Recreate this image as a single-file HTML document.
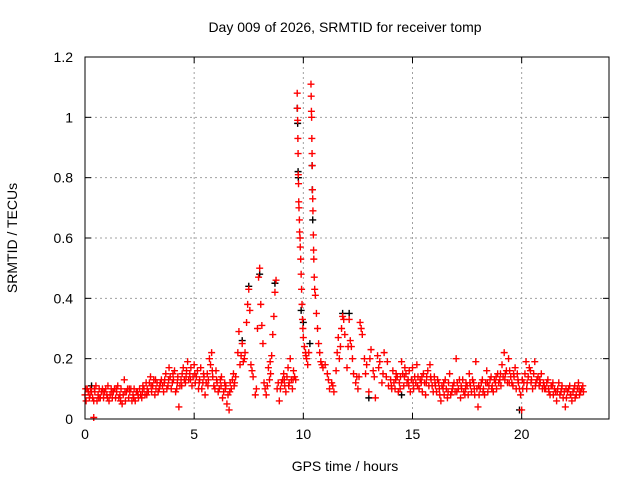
<!DOCTYPE html>
<html><head><meta charset="utf-8"><style>
body{margin:0;background:#fff}
svg{display:block;font-family:"Liberation Sans",sans-serif}
</style></head><body>
<svg id="chart" width="640" height="480">
<rect width="640" height="480" fill="#fff"/>
<text x="345" y="32" text-anchor="middle" font-size="14">Day 009 of 2026, SRMTID for receiver tomp</text>
<text x="345" y="471" text-anchor="middle" font-size="14">GPS time / hours</text>
<text x="17" y="238" text-anchor="middle" font-size="14" transform="rotate(-90 17 238)">SRMTID / TECUs</text>
<g id="grid"></g>
<g id="ticks"></g>
<g id="black"></g>
<g id="red"></g>
<rect x="85" y="57" width="524" height="362" fill="none" stroke="#000" stroke-width="1"/>
</svg>
<script>
const xTicks=[0,5,10,15,20];
const yTicks=[0,0.2,0.4,0.6,0.8,1,1.2];
const yTickLabels=["0","0.2","0.4","0.6","0.8","1","1.2"];
const redPts=[[0.0,.08],[0.1,.1],[0.2,.07],[0.3,.09],[0.4,.06],[0.5,.11],[0.6,.08],[0.7,.07],[0.8,.1],[0.9,.09],[1.0,.08],[1.1,.06],[1.2,.1],[1.3,.09],[1.4,.07],[1.5,.11],[1.6,.08],[1.7,.05],[1.8,.13],[1.9,.09],[2.0,.07],[2.1,.1],[2.2,.08],[2.3,.06],[2.4,.09],[2.5,.1],
[2.6,.07],[2.7,.1],[2.8,.12],[2.9,.09],[3.0,.14],[3.1,.11],[3.2,.08],[3.3,.12],[3.4,.1],[3.5,.13],[3.6,.09],[3.7,.15],[3.8,.11],[3.9,.14],[4.0,.12],
[4.1,.16],[4.2,.1],[4.3,.04],[4.4,.13],[4.5,.17],[4.6,.12],[4.7,.19],[4.8,.15],[4.9,.11],[5.0,.18],
[5.1,.14],[5.2,.1],[5.3,.17],[5.4,.12],[5.5,.08],[5.6,.15],[5.7,.2],[5.8,.22],[5.9,.11],[6.0,.16],
[6.1,.09],[6.2,.13],[6.3,.07],[6.4,.12],[6.5,.05],[6.6,.03],[6.7,.1],[6.8,.15],
[6.9,.14],[7.0,.22],[7.05,.29],[7.1,.18],[7.2,.25],[7.3,.2],[7.4,.32],[7.45,.38],[7.5,.43],[7.55,.36],[7.6,.18],[7.7,.14],[7.8,.08],[7.85,.1],[7.9,.3],[7.95,.47],[8.0,.5],[8.05,.38],[8.1,.31],[8.15,.25],[8.2,.12],[8.3,.08],[8.4,.17],[8.5,.15],[8.55,.21],[8.6,.28],[8.65,.34],[8.7,.42],[8.75,.46],[8.8,.1],[8.9,.06],[9.0,.12],[9.1,.15],[9.2,.09],[9.3,.17],[9.4,.2],[9.5,.1],[9.6,.14],[9.65,.13],
[9.72,1.08],[9.73,1.03],[9.74,.99],[9.75,.93],[9.76,.88],[9.77,.81],[9.78,.78],[9.79,.72],[9.8,.7],[9.82,.66],[9.83,.62],[9.85,.6],[9.86,.57],[9.88,.53],[9.9,.48],[9.92,.43],[9.94,.38],[9.96,.33],[9.98,.3],[10.0,.27],[10.05,.24],[10.1,.22],[10.15,.2],[10.2,.18],[10.25,.22],
[10.35,1.11],[10.36,1.07],[10.37,1.02],[10.38,1.0],[10.39,.93],[10.4,.88],[10.41,.84],[10.42,.76],[10.43,.73],[10.44,.69],[10.46,.61],[10.47,.56],[10.48,.53],[10.5,.47],[10.52,.43],[10.55,.41],[10.6,.35],[10.65,.3],[10.7,.25],[10.75,.22],[10.8,.19],[10.9,.17],[11.0,.18],[11.1,.15],[11.2,.1],[11.3,.12],[11.4,.09],[11.5,.16],[11.55,.22],[11.6,.27],[11.7,.24],[11.75,.3],[11.8,.34],[11.85,.33],[11.9,.28],[12.0,.17],[12.05,.24],[12.1,.33],[12.15,.26],[12.2,.24],[12.3,.15],[12.4,.12],[12.5,.1],[12.55,.14],[12.6,.32],[12.65,.3],[12.7,.28],[12.8,.2],[12.9,.18],[13.0,.09],[13.1,.23],[13.2,.16],[13.3,.07],[13.4,.21],[13.5,.19],[13.6,.12],[13.7,.22],[13.8,.14],[13.9,.11],
[14.0,.13],[14.1,.16],[14.2,.1],[14.3,.14],[14.4,.12],[14.5,.19],[14.6,.11],[14.7,.15],[14.8,.13],[14.9,.09],
[15.0,.17],[15.1,.14],[15.2,.18],[15.3,.1],[15.4,.12],[15.5,.15],[15.6,.08],[15.7,.16],[15.8,.18],[15.9,.11],
[16.0,.14],[16.1,.09],[16.2,.12],[16.3,.06],[16.4,.1],[16.5,.13],[16.6,.07],[16.7,.15],[16.8,.09],[16.9,.12],
[17.0,.2],[17.1,.1],[17.2,.07],[17.3,.13],[17.4,.08],[17.5,.11],[17.6,.15],[17.7,.09],[17.8,.12],[17.9,.19],
[18.0,.04],[18.1,.1],[18.2,.13],[18.3,.08],[18.4,.16],[18.5,.11],[18.6,.14],[18.7,.09],[18.8,.12],[18.9,.15],
[19.0,.13],[19.1,.18],[19.2,.22],[19.3,.16],[19.4,.2],[19.5,.14],[19.6,.11],[19.7,.17],[19.8,.15],[19.9,.1],
[20.0,.03],[20.1,.12],[20.2,.19],[20.3,.14],[20.4,.16],[20.5,.1],[20.6,.19],[20.7,.13],[20.8,.11],[20.9,.15],
[21.0,.12],[21.1,.1],[21.2,.13],[21.3,.08],[21.4,.11],[21.5,.1],[21.6,.06],[21.7,.12],[21.8,.09],[21.9,.07],
[22.0,.04],[22.1,.09],[22.2,.11],[22.3,.06],[22.4,.1],[22.5,.08],[22.6,.12],[22.7,.09],[22.8,.11],[0.4,.005]];
const redBand=[[0.05,.06],[0.15,.09],[0.25,.1],[0.35,.07],[0.45,.09],[0.55,.06],[0.65,.1],[0.75,.09],[0.85,.07],[0.95,.1],[1.05,.11],[1.15,.08],[1.25,.07],[1.35,.1],[1.45,.09],[1.55,.07],[1.65,.1],[1.75,.08],[1.85,.06],[1.95,.1],[2.05,.09],[2.15,.06],[2.25,.1],[2.35,.09],[2.45,.07],[2.55,.08],[2.65,.11],[2.75,.08],[2.85,.1],[2.95,.12],[3.05,.09],[3.15,.13],[3.25,.1],[3.35,.09],[3.45,.12],[3.55,.11],[3.65,.13],[3.75,.1],[3.85,.17],[3.95,.1],[4.05,.13],[4.15,.09],[4.25,.14],[4.35,.11],[4.45,.15],[4.55,.13],[4.65,.16],[4.75,.13],[4.85,.17],[4.95,.14],[5.05,.12],[5.15,.16],[5.25,.13],[5.35,.1],[5.45,.14],[5.55,.12],[5.65,.13],[5.75,.18],[5.85,.14],[5.95,.1],[6.05,.12],[6.15,.1],[6.25,.14],[6.35,.09],[6.45,.11],[6.55,.08],[6.65,.12],[6.75,.13],[6.85,.12],[7.15,.21],[7.25,.19],[7.65,.16],[8.35,.11],[8.45,.13],[8.85,.12],[8.95,.1],[9.05,.13],[9.15,.11],[9.25,.14],[9.35,.12],[9.45,.13],[9.55,.16],
[14.05,.1],[14.15,.12],[14.25,.15],[14.35,.09],[14.45,.14],[14.55,.15],[14.65,.17],[14.75,.12],[14.85,.16],[14.95,.13],[15.05,.1],[15.15,.12],[15.25,.14],[15.35,.13],[15.45,.09],[15.55,.12],[15.65,.14],[15.75,.11],[15.85,.13],[15.95,.09],[16.05,.11],[16.15,.13],[16.25,.08],[16.35,.11],[16.45,.08],[16.55,.1],[16.65,.12],[16.75,.08],[16.85,.11],[16.95,.09],[17.05,.12],[17.15,.13],[17.25,.1],[17.35,.09],[17.45,.12],[17.55,.08],[17.65,.11],[17.75,.13],[17.85,.08],[17.95,.1],[18.05,.08],[18.15,.12],[18.25,.1],[18.35,.12],[18.45,.09],[18.55,.13],[18.65,.11],[18.75,.13],[18.85,.1],[18.95,.12],[19.05,.11],[19.15,.14],[19.25,.15],[19.35,.12],[19.45,.16],[19.55,.12],[19.65,.14],[19.75,.1],[19.85,.12],[19.95,.08],[20.05,.1],[20.15,.15],[20.25,.12],[20.35,.17],[20.45,.13],[20.55,.15],[20.65,.12],[20.75,.14],[20.85,.12],[20.95,.1],[21.05,.1],[21.15,.12],[21.25,.09],[21.35,.11],[21.45,.08],[21.55,.09],[21.65,.1],[21.75,.08],[21.85,.11],[21.95,.09],[22.05,.07],[22.15,.1],[22.25,.08],[22.35,.09],[22.45,.07],[22.55,.1],[22.65,.08],[22.75,.1]];
const redBand2=[[0.03,.1],[0.23,.08],[0.43,.1],[0.63,.07],[0.83,.09],[1.03,.07],[1.23,.09],[1.43,.1],[1.63,.06],[1.83,.09],[2.03,.1],[2.23,.07],[2.43,.08],[2.63,.09],[2.83,.08],[3.03,.11],[3.23,.13],[3.43,.11],[3.63,.12],[3.83,.13],[4.03,.15],[4.23,.12],[4.43,.11],[4.63,.14],[4.83,.13],[5.03,.15],[5.23,.12],[5.43,.15],[5.63,.11],[5.83,.16],[6.03,.13],[6.23,.11],[6.43,.1],[6.63,.09],[6.83,.11],[7.33,.22],[8.25,.1],[8.48,.19],[9.13,.13],[9.33,.11],[9.53,.13],[10.12,.21],[10.85,.18],[11.15,.13],[11.35,.11],[11.65,.2],[12.25,.2],[12.45,.14],[12.85,.15],[13.05,.2],[13.25,.14],[13.45,.17],[13.65,.15],[13.85,.19],
[14.03,.11],[14.23,.13],[14.43,.1],[14.63,.14],[14.83,.11],[15.03,.12],[15.23,.11],[15.43,.14],[15.63,.12],[15.83,.14],[16.03,.12],[16.23,.1],[16.43,.12],[16.63,.09],[16.83,.1],[17.03,.09],[17.23,.11],[17.43,.1],[17.63,.12],[17.83,.1],[18.03,.11],[18.23,.09],[18.43,.12],[18.63,.1],[18.83,.14],[19.03,.15],[19.23,.13],[19.43,.12],[19.63,.15],[19.83,.13],[20.03,.13],[20.23,.1],[20.43,.12],[20.63,.11],[20.83,.13],[21.03,.11],[21.23,.1],[21.43,.12],[21.63,.09],[21.83,.1],[22.03,.1],[22.23,.08],[22.43,.11],[22.63,.1],[22.83,.09]];
const blackPts=[[9.72,1.03],[9.74,.98],[9.76,.82],[9.77,.8],[10.4,.84],[10.41,.76],[10.43,.66],[8.0,.48],[7.5,.44],[9.9,.36],[10.0,.32],[10.3,.25],[0.3,.11],[19.9,.03],[14.5,.08],[12.1,.35],[13.0,.07],[7.2,.26],[11.8,.35],[8.7,.45]];
const L=85,R=609,T=57,B=419,XMAX=24,YMAX=1.2;
const NS="http://www.w3.org/2000/svg";
function xs(t){return L+(R-L)*t/XMAX;}
function ys(v){return B-(B-T)*v/YMAX;}
function mk(tag,attrs,parent){const e=document.createElementNS(NS,tag);for(const k in attrs)e.setAttribute(k,attrs[k]);parent.appendChild(e);return e;}
const grid=document.getElementById('grid'),ticks=document.getElementById('ticks');
xTicks.forEach((t,i)=>{const x=xs(t);
 if(t>0){const g=mk('line',{x1:x,x2:x,y1:T,y2:B,stroke:'#a0a0a0','stroke-dasharray':'2,3','stroke-width':1},grid);}
 mk('line',{x1:x,x2:x,y1:B,y2:B-6,stroke:'#000'},ticks);mk('line',{x1:x,x2:x,y1:T,y2:T+6,stroke:'#000'},ticks);
 const lb=mk('text',{x:x,y:B+20,'text-anchor':'middle','font-size':14},ticks);lb.textContent=String(t);
 
 });
yTicks.forEach((v,i)=>{const y=ys(v);
 if(v>0&&v<YMAX){const g=mk('line',{x1:L,x2:R,y1:y,y2:y,stroke:'#a0a0a0','stroke-dasharray':'2,3','stroke-width':1},grid);}
 mk('line',{x1:L,x2:L+6,y1:y,y2:y,stroke:'#000'},ticks);mk('line',{x1:R,x2:R-6,y1:y,y2:y,stroke:'#000'},ticks);
 const lb=mk('text',{x:L-12,y:y+5,'text-anchor':'end','font-size':14},ticks);lb.textContent=yTickLabels[i];
 
 });
function plus(g,p,col){const x=xs(p[0]),y=ys(p[1]);
 const e=mk('path',{d:`M${x-3.5},${y}H${x+3.5}M${x},${y-3.5}V${y+3.5}`,stroke:col,'stroke-width':1.4,fill:'none'},g);
 
 }
const bg=document.getElementById('black'),rg=document.getElementById('red');
blackPts.forEach(p=>plus(bg,p,'#000'));
redBand2.forEach(p=>plus(rg,p,'#ff0000'));
redBand.forEach(p=>plus(rg,p,'#ff0000'));
redPts.forEach(p=>plus(rg,p,'#ff0000'));
</script>
</body></html>
